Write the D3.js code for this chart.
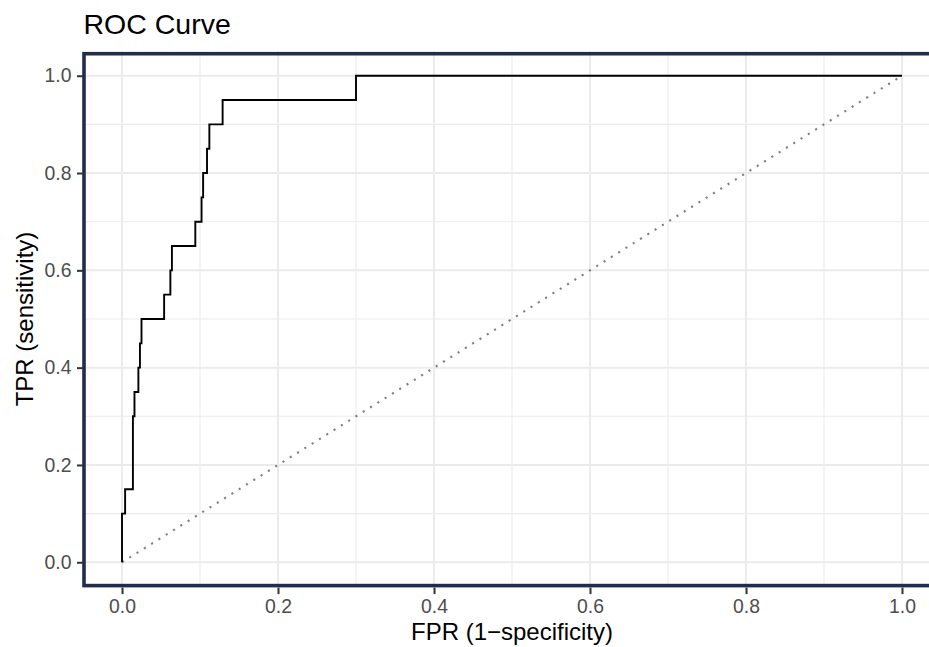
<!DOCTYPE html>
<html>
<head>
<meta charset="utf-8">
<script src="https://cdn.jsdelivr.net/npm/d3@7"></script>
<style>
  html, body { margin: 0; padding: 0; background: #ffffff; }
  svg { display: block; font-family: "Liberation Sans", Arial, Helvetica, sans-serif; }
</style>
</head>
<body>
<svg id="chart" width="929" height="647"></svg>
<script>
// ROC curve vertices (false positive rate, true positive rate)
const fprValues = [0, 0, 0.004, 0.014, 0.016, 0.021, 0.023, 0.025, 0.054, 0.062, 0.064,
                   0.094, 0.102, 0.104, 0.109, 0.112, 0.129, 0.30, 1.0];
const tprValues = [0, 0.10, 0.15, 0.30, 0.35, 0.40, 0.45, 0.50, 0.55, 0.60, 0.65,
                   0.70, 0.75, 0.80, 0.85, 0.90, 0.95, 1.00, 1.00];
// Chance line
const chanceFpr = [0, 1];
const chanceTpr = [0, 1];
// Axis ticks
const majorTicks = [0, 0.2, 0.4, 0.6, 0.8, 1.0];
const minorTicks = [0.1, 0.3, 0.5, 0.7, 0.9];
const tickLabels = ["0.0", "0.2", "0.4", "0.6", "0.8", "1.0"];

const titleText = "ROC Curve";
const xTitle = "FPR (1\u2212specificity)";
const yTitle = "TPR (sensitivity)";

const svg = d3.select("#chart");

// Data range 0..1 expanded by 5% on each side
const x = d3.scaleLinear().domain([-0.05, 1.05]).range([83, 941]);
const y = d3.scaleLinear().domain([-0.05, 1.05]).range([586.6, 51.4]);

const panelLeft = x(-0.05), panelRight = x(1.05);
const panelTop = y(1.05), panelBottom = y(-0.05);

const plot = svg.append("g");

// Minor grid
plot.append("g").selectAll("line.vminor").data(minorTicks).join("line")
  .attr("x1", d => x(d)).attr("x2", d => x(d))
  .attr("y1", panelTop).attr("y2", panelBottom)
  .attr("stroke", "#ebebeb").attr("stroke-width", 1.1);
plot.append("g").selectAll("line.hminor").data(minorTicks).join("line")
  .attr("y1", d => y(d)).attr("y2", d => y(d))
  .attr("x1", panelLeft).attr("x2", panelRight)
  .attr("stroke", "#ebebeb").attr("stroke-width", 1.1);

// Major grid
plot.append("g").selectAll("line.vmajor").data(majorTicks).join("line")
  .attr("x1", d => x(d)).attr("x2", d => x(d))
  .attr("y1", panelTop).attr("y2", panelBottom)
  .attr("stroke", "#ebebeb").attr("stroke-width", 2);
plot.append("g").selectAll("line.hmajor").data(majorTicks).join("line")
  .attr("y1", d => y(d)).attr("y2", d => y(d))
  .attr("x1", panelLeft).attr("x2", panelRight)
  .attr("stroke", "#ebebeb").attr("stroke-width", 2);

// Chance diagonal (dotted)
const chance = chanceFpr.map((f, i) => [f, chanceTpr[i]]);
plot.append("path")
  .attr("d", d3.line().x(d => x(d[0])).y(d => y(d[1]))(chance))
  .attr("fill", "none")
  .attr("stroke", "#7f7f7f")
  .attr("stroke-width", 2.1)
  .attr("stroke-dasharray", "2.1 6.5");

// ROC step curve
const roc = fprValues.map((f, i) => [f, tprValues[i]]);
plot.append("path")
  .attr("d", d3.line().curve(d3.curveStepAfter).x(d => x(d[0])).y(d => y(d[1]))(roc))
  .attr("fill", "none")
  .attr("stroke", "#000000")
  .attr("stroke-width", 1.9);

// Panel border
plot.append("rect")
  .attr("x", panelLeft + 1).attr("y", panelTop + 2.3)
  .attr("width", panelRight - panelLeft).attr("height", panelBottom - panelTop - 3.3)
  .attr("fill", "none")
  .attr("stroke", "#232c4b")
  .attr("stroke-width", 3.6);

// X axis
const xAxis = d3.axisBottom(x).tickValues(majorTicks)
  .tickFormat((d, i) => tickLabels[i]).tickSize(6.5).tickPadding(5.5);
const gx = svg.append("g").attr("transform", `translate(0,${panelBottom + 1})`).call(xAxis);
gx.select(".domain").remove();
gx.selectAll(".tick line").attr("stroke", "#333333").attr("stroke-width", 2);
gx.selectAll(".tick text").attr("fill", "#4d4d4d").attr("font-size", 19.4)
  .attr("font-family", "Liberation Sans, Arial, sans-serif");

// Y axis
const yAxis = d3.axisLeft(y).tickValues(majorTicks)
  .tickFormat((d, i) => tickLabels[i]).tickSize(6).tickPadding(5.5);
const gy = svg.append("g").attr("transform", `translate(${panelLeft},0)`).call(yAxis);
gy.select(".domain").remove();
gy.selectAll(".tick line").attr("stroke", "#333333").attr("stroke-width", 2);
gy.selectAll(".tick text").attr("fill", "#4d4d4d").attr("font-size", 19.4)
  .attr("font-family", "Liberation Sans, Arial, sans-serif");

// Titles
svg.append("text")
  .attr("x", 83.5).attr("y", 34)
  .attr("font-size", 28.5).attr("fill", "#000000")
  .text(titleText);

svg.append("text")
  .attr("x", (panelLeft + panelRight) / 2).attr("y", 640)
  .attr("text-anchor", "middle")
  .attr("font-size", 24).attr("fill", "#000000")
  .text(xTitle);

svg.append("text")
  .attr("transform", `translate(33,${(panelTop + panelBottom) / 2}) rotate(-90)`)
  .attr("text-anchor", "middle")
  .attr("font-size", 24).attr("fill", "#000000")
  .text(yTitle);
</script>
</body>
</html>
